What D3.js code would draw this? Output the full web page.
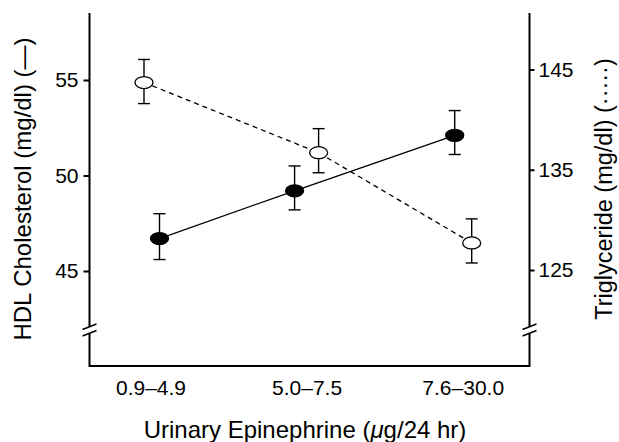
<!DOCTYPE html>
<html>
<head>
<meta charset="utf-8">
<script src="https://cdn.jsdelivr.net/npm/d3@7"></script>
<style>
  body { margin: 0; background: #fff; }
  svg { display: block; font-family: "Liberation Sans", Arial, Helvetica, sans-serif; }
</style>
</head>
<body>
<svg id="chart" width="619" height="442"></svg>
<script>
// values
const categories = ["0.9\u20134.9", "5.0\u20137.5", "7.6\u201330.0"];
const hdlMean = [46.7, 49.2, 52.1];
const hdlHi = [48.0, 50.5, 53.4];
const hdlLo = [45.6, 48.2, 51.1];
const tgMean = [143.7, 136.7, 127.7];
const tgHi = [146.0, 139.1, 130.1];
const tgLo = [141.6, 134.7, 125.7];
const hdlTicks = [45, 50, 55];
const tgTicks = [125, 135, 145];

// small horizontal nudges so markers of the two series don't sit on top of each other
const hdlShift = [9, -12, -8];
const tgShift = [-6.5, 12, 9];

const frame = {left: 89.5, right: 529.5, top: 13, bottom: 366, breakY: 330};

const svg = d3.select("#chart");

const x = d3.scalePoint().domain(categories).range([150.5, 462.7]);
const yL = d3.scaleLinear().domain([45, 55]).range([271, 80]);
const yR = d3.scaleLinear().domain([125, 145]).range([270, 69.5]);

// frame: left, bottom, right
svg.append("path")
    .attr("d", `M${frame.left},${frame.top}V${frame.bottom}H${frame.right}V${frame.top}`)
    .attr("fill", "none")
    .attr("stroke", "#000")
    .attr("stroke-width", 2);

// axis breaks
[frame.left, frame.right].forEach(ax => {
    svg.append("rect")
        .attr("x", ax - 3).attr("y", frame.breakY - 3)
        .attr("width", 6).attr("height", 6.5)
        .attr("fill", "#fff");
    [frame.breakY - 3.3, frame.breakY + 3.3].forEach(by => {
        svg.append("line")
            .attr("x1", ax - 7).attr("y1", by + 2.7)
            .attr("x2", ax + 7).attr("y2", by - 2.7)
            .attr("stroke", "#000")
            .attr("stroke-width", 1.6);
    })
})

// left axis
const gL = svg.append("g")
    .attr("transform", `translate(${frame.left},0)`)
    .call(d3.axisLeft(yL).tickValues(hdlTicks).tickSize(6).tickPadding(5));
gL.select(".domain").remove();

// right axis
const gR = svg.append("g")
    .attr("transform", `translate(${frame.right},0)`)
    .call(d3.axisRight(yR).tickValues(tgTicks).tickSize(5).tickPadding(4));
gR.select(".domain").remove();

// x labels (no tick marks)
const gX = svg.append("g")
    .attr("transform", `translate(0,${frame.bottom})`)
    .call(d3.axisBottom(x).tickSize(0).tickPadding(14));
gX.select(".domain").remove();

[gL, gR].forEach(g => {
    g.selectAll("line").attr("stroke", "#000").attr("stroke-width", 2);
    g.selectAll("text").attr("fill", "#000").style("font-size", "21px")
        .attr("font-family", null);
})
gX.selectAll("text").attr("fill", "#000").style("font-size", "21px")
    .attr("font-family", null);

// series
function drawSeries(mean, hi, lo, shift, y, dashed, filled) {
    const pts = mean.map((m, i) => ({
        cx: x(categories[i]) + shift[i], m: m, hi: hi[i], lo: lo[i]
    }));

    const line = d3.line().x(d => d.cx).y(d => y(d.m));
    svg.append("path")
        .datum(pts)
        .attr("d", line)
        .attr("fill", "none")
        .attr("stroke", "#000")
        .attr("stroke-width", 1.3)
        .attr("stroke-dasharray", dashed ? "5,4" : null);

    const eb = svg.append("g").selectAll("g")
        .data(pts)
        .join("g")
        .attr("stroke", "#000")
        .attr("stroke-width", 1.4);
    eb.append("line")
        .attr("x1", d => d.cx).attr("x2", d => d.cx)
        .attr("y1", d => y(d.hi)).attr("y2", d => y(d.lo));
    eb.append("line")
        .attr("x1", d => d.cx - 6).attr("x2", d => d.cx + 6)
        .attr("y1", d => y(d.hi)).attr("y2", d => y(d.hi));
    eb.append("line")
        .attr("x1", d => d.cx - 6).attr("x2", d => d.cx + 6)
        .attr("y1", d => y(d.lo)).attr("y2", d => y(d.lo));

    svg.append("g").selectAll("ellipse")
        .data(pts)
        .join("ellipse")
        .attr("cx", d => d.cx)
        .attr("cy", d => y(d.m))
        .attr("rx", 9)
        .attr("ry", 6)
        .attr("fill", filled ? "#000" : "#fff")
        .attr("stroke", "#000")
        .attr("stroke-width", 1.3);
}

drawSeries(tgMean, tgHi, tgLo, tgShift, yR, true, false);
drawSeries(hdlMean, hdlHi, hdlLo, hdlShift, yL, false, true);

// titles
svg.append("text")
    .attr("transform", "translate(31,189) rotate(-90)")
    .attr("text-anchor", "middle")
    .style("font-size", "24px")
    .text("HDL Cholesterol (mg/dl) (\u2014)");

svg.append("text")
    .attr("transform", "translate(612,189) rotate(-90)")
    .attr("text-anchor", "middle")
    .style("font-size", "23.5px")
    .text("Triglyceride (mg/dl) (\u00b7\u00b7\u00b7\u00b7\u00b7)");

const xt = svg.append("text")
    .attr("x", 305)
    .attr("y", 438)
    .attr("text-anchor", "middle")
    .style("font-size", "24px");
xt.append("tspan").text("Urinary Epinephrine (");
xt.append("tspan").style("font-style", "italic").text("\u03bc");
xt.append("tspan").text("g/24 hr)");
</script>
</body>
</html>
